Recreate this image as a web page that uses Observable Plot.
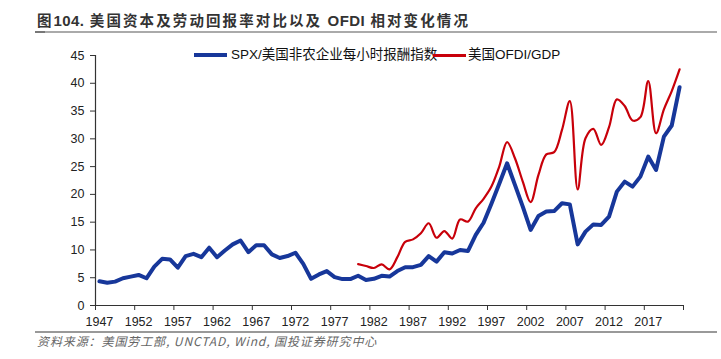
<!DOCTYPE html>
<html>
<head>
<meta charset="utf-8">
<script src="https://cdn.jsdelivr.net/npm/d3@7"></script>
<script src="https://cdn.jsdelivr.net/npm/@observablehq/plot@0.6"></script>
<style>
  html, body { margin: 0; padding: 0; background: #fff; }
  #wrap { position: relative; width: 721px; height: 359px; overflow: hidden; }
  #title { position: absolute; left: 37px; top: 11px; font: bold 14.5px "Noto Sans CJK SC", sans-serif; color: #333; letter-spacing: 2.1px; white-space: nowrap; line-height: 18px; }
  #title .lt { letter-spacing: 0.4px; font-family: "Liberation Sans", Arial, sans-serif; font-size: 15px; }
  #tline { position: absolute; left: 35px; top: 31px; width: 682px; height: 2px; background: #aaa; }
  #tmark { position: absolute; left: 35px; top: 31px; width: 10px; height: 2px; background: #777; }
  #chart { position: absolute; left: 0; top: 0; }
  .leg { position: absolute; top: 47px; font: 13.5px "Liberation Sans", "Noto Sans CJK SC", sans-serif; color: #111; white-space: nowrap; line-height: 16px; }
  .sw { position: absolute; }
  #sline { position: absolute; left: 35px; top: 331px; width: 682px; height: 2px; background: #999; }
  #source { position: absolute; left: 37px; top: 334px; font: italic 12px "Noto Sans CJK SC", "DejaVu Sans Mono", monospace; color: #666; white-space: nowrap; line-height: 14px; letter-spacing: 0.9px; }
</style>
</head>
<body>
<div id="wrap">
  <div id="title">图<span class="lt">104.</span> 美国资本及劳动回报率对比以及 <span class="lt">OFDI</span> 相对变化情况</div>
  <div id="tline"></div><div id="tmark"></div>
  <div id="chart"></div>
  <div class="sw" style="left:194px;top:53px;width:33px;height:4px;background:#17379a;"></div>
  <div class="leg" style="left:231px;">SPX/美国非农企业每小时报酬指数</div>
  <div class="sw" style="left:433px;top:54px;width:33px;height:2.5px;background:#c8000a;"></div>
  <div class="leg" style="left:468px;">美国OFDI/GDP</div>
  <div id="sline"></div>
  <div id="source">资料来源：美国劳工部, UNCTAD, Wind, 国投证券研究中心</div>
</div>
<script>
// Data
const firstYear = 1947;
const lastYear = 2021;
const spxWageRatio = [
  4.35, 4.1, 4.3, 4.9, 5.2, 5.5, 4.9, 7.0, 8.4, 8.3,
  6.8, 8.9, 9.3, 8.7, 10.4, 8.7, 9.9, 11.0, 11.7, 9.6,
  10.85, 10.85, 9.2, 8.55, 8.9, 9.5, 7.5, 4.8, 5.6, 6.2,
  5.1, 4.75, 4.75, 5.35, 4.6, 4.8, 5.35, 5.2, 6.2, 6.9,
  6.9, 7.3, 8.9, 7.9, 9.6, 9.35, 10.0, 9.8, 12.7, 14.9,
  18.3, 21.9, 25.6, 21.7, 17.8, 13.6, 16.1, 16.9, 17.0, 18.4,
  18.2, 11.0, 13.3, 14.6, 14.5, 16.0, 20.5, 22.3, 21.4, 23.2,
  26.8, 24.4, 30.4, 32.4, 39.3
];
const ofdiFirstYear = 1980;
const ofdiGdp = [
  7.45, 7.1, 6.75, 7.4, 6.5, 8.7, 11.45, 11.9, 13.0, 14.8,
  12.2, 13.4, 12.05, 15.5, 15.1, 17.5, 19.2, 21.4, 25.0, 29.4,
  26.5, 22.3, 18.6, 23.5, 27.2, 27.6, 31.6, 36.8, 20.9, 30.1,
  31.8, 28.9, 32.1, 37.1, 35.9, 33.3, 33.9, 40.4, 31.0, 35.3,
  38.6, 42.5
];
const xTickLabels = [1947, 1952, 1957, 1962, 1967, 1972, 1977, 1982, 1987, 1992, 1997, 2002, 2007, 2012, 2017];
const yTickLabels = [0, 5, 10, 15, 20, 25, 30, 35, 40, 45];

const blue = spxWageRatio.map((v, i) => ({year: firstYear + i, v}));
const red = ofdiGdp.map((v, i) => ({year: ofdiFirstYear + i, v}));
// category boundaries (Excel style: ticks between categories)
const boundaryTicks = xTickLabels.map(y => y - 0.5).concat([lastYear + 0.5]);

const font = '"Liberation Sans", Arial, sans-serif';
const chart = Plot.plot({
  width: 721,
  height: 359,
  marginTop: 55,
  marginBottom: 54,
  marginLeft: 95,
  marginRight: 38,
  style: {fontFamily: font, fontSize: "12.5px", color: "#222", background: "transparent"},
  x: {domain: [firstYear - 0.5, lastYear + 0.5]},
  y: {domain: [0, 45]},
  marks: [
    Plot.axisY({ticks: yTickLabels, tickSize: 5, tickPadding: 6, label: null, stroke: "#333", fontSize: 12.5}),
    Plot.axisX({ticks: boundaryTicks, tickSize: 5, tickFormat: () => "", label: null, stroke: "#333"}),
    Plot.axisX({ticks: xTickLabels, tickSize: 0, tickPadding: 12, tickFormat: d => String(d), label: null, fontSize: 12.5}),
    Plot.ruleX([firstYear - 0.5], {stroke: "#333", strokeWidth: 1.2}),
    Plot.ruleY([0], {stroke: "#333", strokeWidth: 1.2}),
    Plot.line(blue, {x: "year", y: "v", stroke: "#17379a", strokeWidth: 4, strokeLinejoin: "round", strokeLinecap: "round"}),
    Plot.line(red, {x: "year", y: "v", stroke: "#c8000a", strokeWidth: 2.2, curve: "catmull-rom", strokeLinejoin: "round"})
  ]
});
document.getElementById("chart").appendChild(chart);
</script>
</body>
</html>
